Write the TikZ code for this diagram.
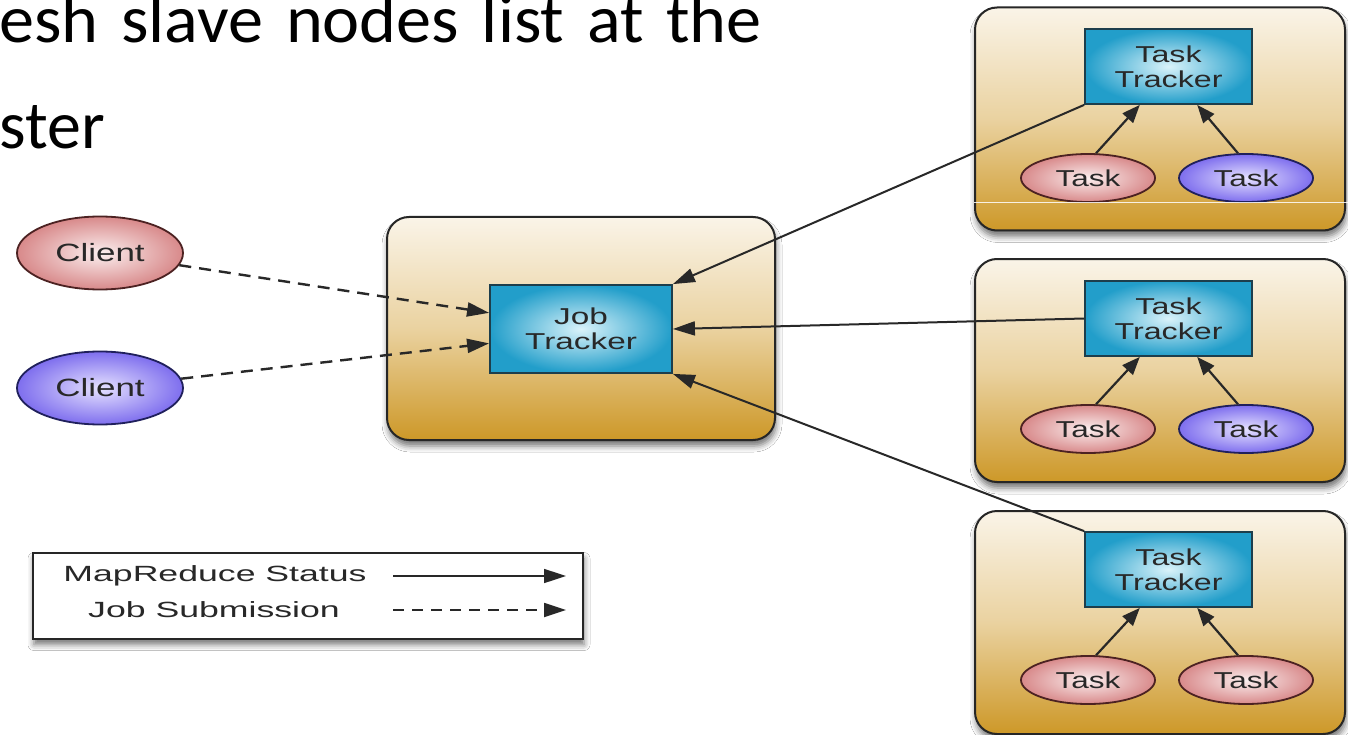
\documentclass[tikz,border=0pt]{standalone}
\usepackage{fontspec}
\setmainfont{Liberation Sans}
\newfontfamily\titlefont{Carlito}
\usepackage{graphicx}
\usetikzlibrary{arrows.meta,shapes.geometric,shadows.blur,calc}

\definecolor{ink}{HTML}{282828}
\definecolor{boxtop}{HTML}{FAF4E8}
\definecolor{boxmid}{HTML}{EAD2A0}
\definecolor{boxbot}{HTML}{CD9828}
\definecolor{cyanout}{HTML}{229ECA}
\definecolor{cyanin}{HTML}{DAF3FA}
\definecolor{cyanline}{HTML}{1D3E4C}
\definecolor{pinkout}{HTML}{D8898A}
\definecolor{pinkin}{HTML}{FBEFEF}
\definecolor{pinkline}{HTML}{4C2222}
\definecolor{purpout}{HTML}{7E6EEE}
\definecolor{purpin}{HTML}{E6E2FF}
\definecolor{purpline}{HTML}{20205C}

% horizontally widened label text
\newcommand\widelabel[2]{\scalebox{#1}[1]{#2}}

\tikzset{
  container/.style={rectangle, rounded corners=22pt, draw=black!85, line width=2pt,
    top color=boxtop, bottom color=boxbot, middle color=boxmid, inner sep=0pt,
    minimum width=370pt, minimum height=223pt,
    blur shadow={shadow xshift=1pt, shadow yshift=-6pt, shadow blur radius=6pt, shadow opacity=55}},
  tracker/.style={rectangle, draw=cyanline, line width=1.8pt, inner sep=0pt,
    inner color=cyanin, outer color=cyanout, text=ink, align=center,
    font=\fontsize{23}{25}\selectfont, minimum width=167pt, minimum height=75pt},
  pinkoval/.style={ellipse, draw=pinkline, line width=1.8pt, inner sep=0pt,
    inner color=pinkin, outer color=pinkout, text=ink},
  purpleoval/.style={ellipse, draw=purpline, line width=1.8pt, inner sep=0pt,
    inner color=purpin, outer color=purpout, text=ink},
  clientsize/.style={minimum width=166pt, minimum height=73pt, font=\fontsize{25}{27}\selectfont},
  tasksize/.style={minimum width=134pt, minimum height=48pt, font=\fontsize{23}{25}\selectfont},
  status/.style={draw=ink, line width=2pt, -{Triangle[length=22pt,width=14pt]}},
  submit/.style={draw=ink, line width=2.4pt, dash pattern=on 12pt off 8pt,
    -{Triangle[length=22pt,width=14pt]}},
  report/.style={draw=ink, line width=2.2pt, -{Triangle[length=18pt,width=14pt]}},
  legendbox/.style={rectangle, draw=black!85, line width=2pt, fill=white, inner sep=0pt,
    minimum width=550pt, minimum height=86pt,
    blur shadow={shadow xshift=1pt, shadow yshift=-6pt, shadow blur radius=6pt, shadow opacity=55}},
  legendtext/.style={text=ink, font=\fontsize{22}{24}\selectfont, inner sep=0pt},
  heading/.style={anchor=base west, inner sep=0pt, font=\titlefont\fontsize{68}{72}\selectfont}
}

\begin{document}
\begin{tikzpicture}[x=1pt, y=-1pt]
\useasboundingbox (0,0) rectangle (1348,735);
\fill[white] (0,0) rectangle (1348,735);

% slide heading
\node[heading] (title1) at (-1,43) {\scalebox{1.033}[1]{\spaceskip=22pt\relax esh slave nodes list at the}};
\node[heading] (title2) at (-1,149) {ster};

% master
\node[container, minimum width=388pt, minimum height=223pt] (jtbox) at (581,328.5) {};
\node[tracker, minimum width=182pt, minimum height=88pt] (jt) at (581,329)
  {\widelabel{1.45}{Job}\\\widelabel{1.45}{Tracker}};

% clients
\node[pinkoval, clientsize] (c1) at (100,253) {\widelabel{1.4}{Client}};
\node[purpleoval, clientsize] (c2) at (100,388) {\widelabel{1.4}{Client}};

% slaves
\node[container] (box1) at (1160,119) {};
\node[container] (box2) at (1160,370.5) {};
\node[container] (box3) at (1160,622.5) {};

\node[tracker] (tt1) at (1168.5,66.5) {\widelabel{1.4}{Task}\\\widelabel{1.4}{Tracker}};
\node[tracker] (tt2) at (1168.5,318.5) {\widelabel{1.4}{Task}\\\widelabel{1.4}{Tracker}};
\node[tracker] (tt3) at (1168.5,569.5) {\widelabel{1.4}{Task}\\\widelabel{1.4}{Tracker}};

\node[pinkoval, tasksize] (t11) at (1088,178) {\widelabel{1.37}{Task}};
\node[purpleoval, tasksize] (t12) at (1246,178) {\widelabel{1.37}{Task}};
\node[pinkoval, tasksize] (t21) at (1088,429) {\widelabel{1.37}{Task}};
\node[purpleoval, tasksize] (t22) at (1246,429) {\widelabel{1.37}{Task}};
\node[pinkoval, tasksize] (t31) at (1088,680) {\widelabel{1.37}{Task}};
\node[pinkoval, tasksize] (t32) at (1246,680) {\widelabel{1.37}{Task}};

% faint seam across the first slave
\draw[white, line width=0.8pt, opacity=0.85] (box1.west |- 0,202) -- (1348,202);

% job submission
\draw[submit] (c1) -- ($(jt.north west)!0.32!(jt.south west)$);
\draw[submit] (c2) -- ($(jt.north west)!0.66!(jt.south west)$);

% status reports to the master
\draw[status] (tt1.south west) -- (jt.north east);
\draw[status] (tt2.west) -- (jt.east);
\draw[status] (tt3.north west) -- (jt.south east);

% task status to task trackers
\foreach \n in {1,2,3}{
  \draw[report] (t\n1.72) -- ($(tt\n.south west)!0.33!(tt\n.south east)$);
  \draw[report] (t\n2.108) -- ($(tt\n.south west)!0.67!(tt\n.south east)$);
}

% legend
\node[legendbox] (legend) at (308,595.5) {};
\node[legendtext] (lstatus) at (215,576) {\widelabel{1.62}{MapReduce Status}};
\node[legendtext] (lsubmit) at (214,610) {\widelabel{1.62}{Job Submission}};
\coordinate (ls0) at (393,576);
\coordinate (ls1) at (566,576);
\coordinate (lj0) at (393,610);
\coordinate (lj1) at (566,610);
\draw[status, line width=1.6pt] (ls0) -- (ls1);
\draw[submit, line width=1.8pt, dash pattern=on 11pt off 8pt] (lj0) -- (lj1);
\end{tikzpicture}
\end{document}
